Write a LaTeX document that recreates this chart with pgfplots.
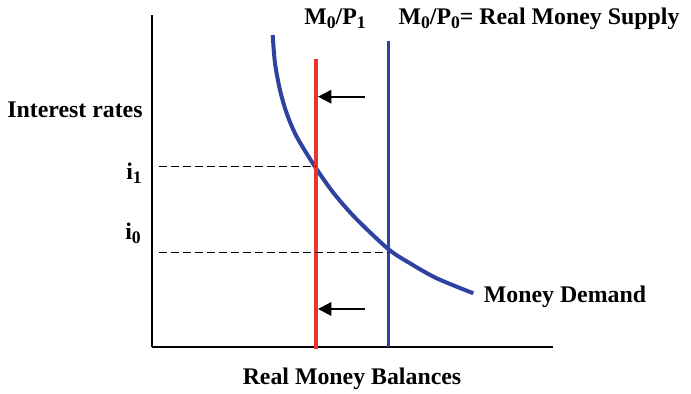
\documentclass[border=0pt]{standalone}
\usepackage{fontspec}
\setmainfont{Liberation Serif}
\usepackage{pgfplots}
\pgfplotsset{compat=1.18}
\usetikzlibrary{arrows.meta}
\definecolor{mdBlue}{HTML}{2F42A0}
\definecolor{msRed}{HTML}{E8362A}
\newcommand{\sub}[1]{\raisebox{-0.28ex}{\fontsize{10.6}{12}\selectfont #1}}

\begin{document}
\begin{tikzpicture}[lab/.style={font=\fontsize{14.3}{17}\selectfont\bfseries, anchor=base, inner sep=0pt}]
\begin{axis}[
  scale only axis,
  width=240.6pt, height=199.2pt,
  xmin=0, xmax=401, ymin=0, ymax=332,
  axis lines=left,
  axis line style={-, line width=1.1pt},
  xtick=\empty, ytick=\empty,
  clip=false,
]
% money demand
\addplot[mdBlue, line width=2.4pt, smooth] coordinates {
  (120.7,312) (123,283.7) (128,257) (134.7,233.7) (144.7,210.3)
  (163,180.3) (181.8,153.7) (203.7,128.7) (236.2,98) (258,83.7)
  (284.7,68.7) (321.3,53.7)
};
% supply lines
\addplot[msRed, line width=2pt] coordinates {(164,-2) (164,288)};
\addplot[mdBlue, line width=2pt] coordinates {(236.3,0) (236.3,306)};
% dashed guides
\addplot[black, line width=0.85pt, dash pattern=on 4.6pt off 2.6pt] coordinates {(7,180.3) (164,180.3)};
\addplot[black, line width=0.85pt, dash pattern=on 4.6pt off 2.6pt] coordinates {(7,94.5) (236.3,94.5)};
% shift arrows
\addplot[black, line width=1.2pt, -{Triangle[length=8pt,width=8pt]}] coordinates {(213,250.3) (166,250.3)};
\addplot[black, line width=1.2pt, -{Triangle[length=8pt,width=8pt]}] coordinates {(213,38) (166,38)};

\node[lab] at (axis cs:-77,229) {Interest rates};
\node[lab] at (axis cs:-18,167) {i\sub{1}};
\node[lab] at (axis cs:-19,107) {i\sub{0}};
\node[lab] at (axis cs:183,322) {M\sub{0}/P\sub{1}};
\node[lab] at (axis cs:387,322) {M\sub{0}/P\sub{0}= Real Money Supply};
\node[lab] at (axis cs:413,44) {Money Demand};
\node[lab] at (axis cs:200,-38) {Real Money Balances};

\coordinate (bl) at (axis cs:-152,-47);
\coordinate (tr) at (axis cs:539,347);
\end{axis}
\pgfresetboundingbox
\path (bl) rectangle (tr);
\end{tikzpicture}
\end{document}
